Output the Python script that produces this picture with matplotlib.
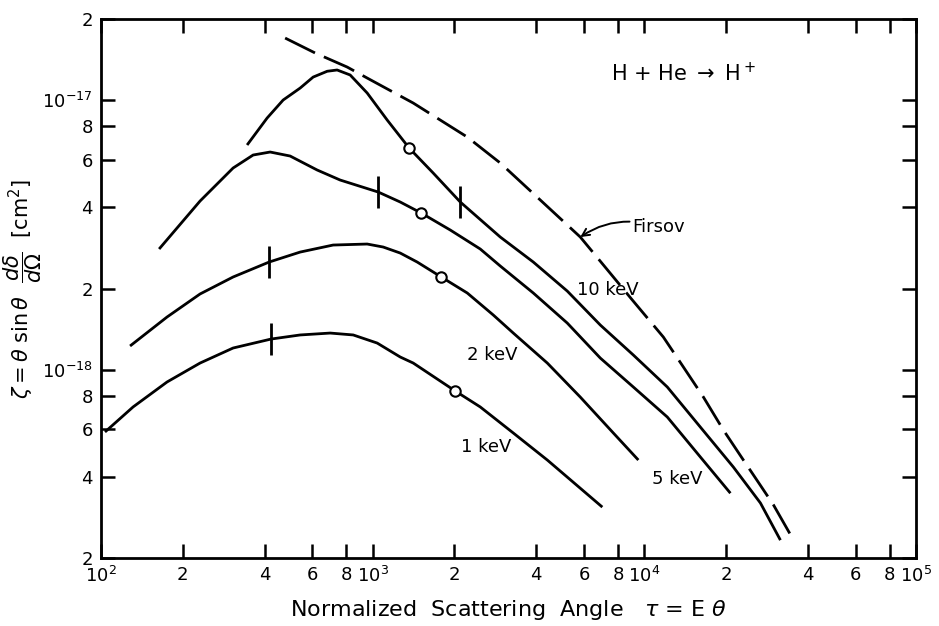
import numpy as np
import matplotlib
matplotlib.use("Agg")
import matplotlib.pyplot as plt
from matplotlib.ticker import FixedLocator, FixedFormatter

plt.rcParams['font.family'] = ['DejaVu Sans']
plt.rcParams['mathtext.fontset'] = 'dejavusans'

# zeta values are in units of 1e-18 cm^2
tau_1kev = [103.4, 131.2, 175.0, 231.5, 306.3, 422.9, 540.8, 697.6, 847.8, 1039,
            1263, 1410, 2014, 2489, 3293, 4393, 7004]
zeta_1kev = [0.587, 0.727, 0.900, 1.058, 1.203, 1.299, 1.345, 1.367, 1.345, 1.255,
             1.114, 1.058, 0.833, 0.727, 0.582, 0.462, 0.309]

tau_2kev = [127.9, 175.0, 231.5, 306.3, 415.8, 540.8, 715.2, 954.4, 1093, 1263,
            1458, 1788, 2229, 2779, 3293, 4393, 5811, 7689, 9505]
zeta_2kev = [1.224, 1.568, 1.909, 2.207, 2.508, 2.731, 2.900, 2.925, 2.851, 2.708,
             2.508, 2.207, 1.925, 1.595, 1.367, 1.058, 0.791, 0.582, 0.462]

tau_5kev = [163.6, 231.5, 306.3, 363.0, 419.3, 496.7, 624.6, 759.2, 1048, 1263,
            1509, 1930, 2489, 2949, 3901, 5203, 6885, 9110, 12150, 16080, 20740]
zeta_5kev = [2.803, 4.224, 5.600, 6.258, 6.420, 6.204, 5.505, 5.053, 4.561, 4.188,
             3.812, 3.297, 2.803, 2.424, 1.925, 1.489, 1.104, 0.862, 0.667, 0.474, 0.348]

tau_10kev = [344.9, 408.7, 468.1, 540.8, 603.7, 680.0, 739.8, 826.2, 954.4, 1131, 1362,
             1670, 2101, 2949, 3901, 5203, 6885, 9110, 12150, 16080, 21270, 26750, 31690]
zeta_10kev = [6.817, 8.584, 10.01, 11.09, 12.18, 12.80, 12.94, 12.40, 10.63, 8.437, 6.643,
              5.366, 4.188, 3.105, 2.508, 1.957, 1.464, 1.133, 0.862, 0.612, 0.435, 0.320, 0.233]

tau_firsov = [476.1, 614.2, 805.4, 954.4, 1410, 2229, 2949, 4140, 5811, 7689,
              9032, 11750, 13920, 16500, 19540, 23150, 26750, 29870, 35090]
zeta_firsov = [17.0, 14.96, 13.27, 12.08, 9.757, 7.297, 5.844, 4.260, 3.105, 2.207,
               1.813, 1.321, 1.023, 0.791, 0.597, 0.462, 0.372, 0.315, 0.237]

# open circles and short vertical bars on the curves
circle_tau = [2014, 1788, 1509, 1362]
circle_zeta = [0.833, 2.207, 3.812, 6.643]
bar_tau = [422.9, 415.8, 1048, 2101]
bar_zeta = [1.299, 2.508, 4.561, 4.188]

x_major = [1e2, 1e3, 1e4, 1e5]
x_major_labels = ['$10^2$', '$10^3$', '$10^4$', '$10^5$']
x_minor = [2e2, 4e2, 6e2, 8e2, 2e3, 4e3, 6e3, 8e3, 2e4, 4e4, 6e4, 8e4]
x_minor_labels = ['2', '4', '6', '8'] * 3
y_major = [1e-18, 1e-17]
y_major_labels = ['$10^{-18}$', '$10^{-17}$']
y_minor = [2e-19, 4e-19, 6e-19, 8e-19, 2e-18, 4e-18, 6e-18, 8e-18, 2e-17]
y_minor_labels = ['2', '4', '6', '8', '2', '4', '6', '8', '2']

unit = 1e-18

fig = plt.figure(figsize=(9.39, 6.26), dpi=100)
ax = fig.add_axes([0.1076, 0.1086, 0.8679, 0.8610])
ax.set_xscale('log')
ax.set_yscale('log')
ax.set_xlim(1e2, 1e5)
ax.set_ylim(2e-19, 2e-17)

lw = 2.0
for t, z in [(tau_1kev, zeta_1kev), (tau_2kev, zeta_2kev),
             (tau_5kev, zeta_5kev), (tau_10kev, zeta_10kev)]:
    ax.plot(t, np.array(z) * unit, color='black', lw=lw,
            solid_capstyle='butt', solid_joinstyle='round')

ax.plot(tau_firsov, np.array(zeta_firsov) * unit, color='black', lw=lw,
        dashes=(12, 3.5), dash_joinstyle='round')

ax.plot(bar_tau, np.array(bar_zeta) * unit, ls='none', marker='|',
        markersize=23, mew=2.0, color='black')
ax.plot(circle_tau, np.array(circle_zeta) * unit, ls='none', marker='o',
        markersize=7.5, mew=1.5, mfc='white', mec='black', zorder=5)

lab = dict(fontsize=13, ha='center', va='center')
ax.text(2618, 0.516 * unit, '1 keV', **lab)
ax.text(2755, 1.133 * unit, '2 keV', **lab)
ax.text(13230, 0.393 * unit, '5 keV', **lab)
ax.text(7307, 1.974 * unit, '10 keV', **lab)
ax.text(13920, 12.61 * unit, r'H + He $\rightarrow$ H$^+$', fontsize=15,
        ha='center', va='center')

ax.annotate('Firsov', xy=(5811, 3.105 * unit), xytext=(9032, 3.382 * unit),
            fontsize=13, ha='left', va='center',
            arrowprops=dict(arrowstyle='->', color='black', lw=1.4,
                            connectionstyle='arc3,rad=0.25',
                            shrinkA=0, shrinkB=0))

ax.xaxis.set_major_locator(FixedLocator(x_major))
ax.xaxis.set_major_formatter(FixedFormatter(x_major_labels))
ax.xaxis.set_minor_locator(FixedLocator(x_minor))
ax.xaxis.set_minor_formatter(FixedFormatter(x_minor_labels))
ax.yaxis.set_major_locator(FixedLocator(y_major))
ax.yaxis.set_major_formatter(FixedFormatter(y_major_labels))
ax.yaxis.set_minor_locator(FixedLocator(y_minor))
ax.yaxis.set_minor_formatter(FixedFormatter(y_minor_labels))

for which in ('major', 'minor'):
    ax.tick_params(axis='both', which=which, direction='in', length=10,
                   width=1.8, labelsize=13, top=True, right=True, pad=6)

for s in ax.spines.values():
    s.set_linewidth(2.0)

ax.set_xlabel(r'Normalized  Scattering  Angle   $\tau$ = E $\theta$',
              fontsize=16, labelpad=8)
ax.set_ylabel(r'$\zeta = \theta\ \sin\theta\ \ \dfrac{d\delta}{d\Omega}\ \ [\mathrm{cm}^2]$',
              fontsize=15)
ax.yaxis.set_label_coords(-0.0705, 0.5)

fig.savefig('out.png', dpi=100)
